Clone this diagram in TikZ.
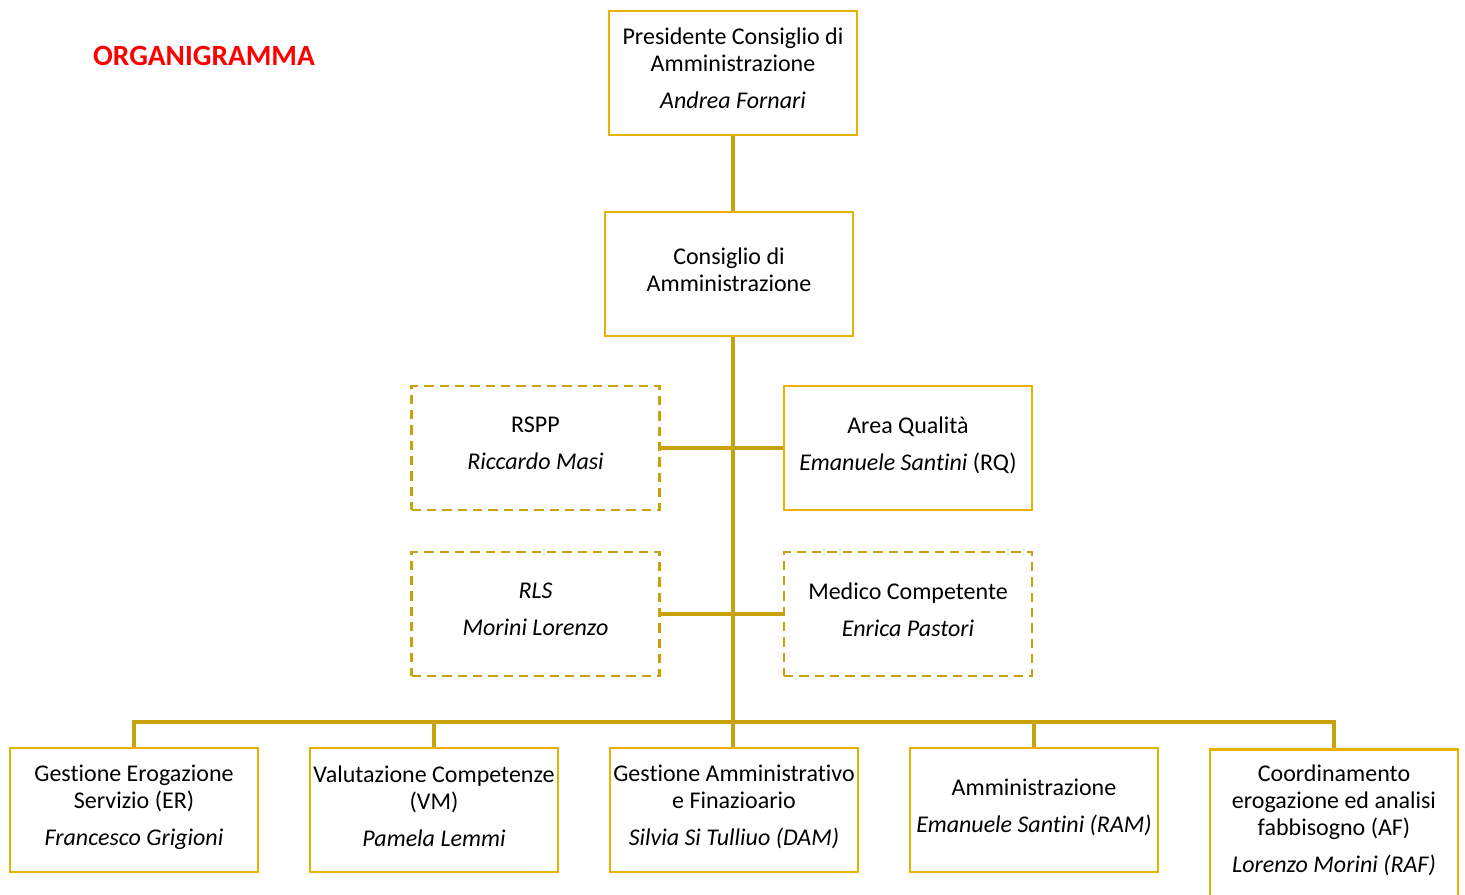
\documentclass[tikz,border=0pt]{standalone}
\usepackage{fontspec}
\setmainfont{Carlito}[Ligatures=NoCommon]
\usetikzlibrary{positioning}
\definecolor{oro}{RGB}{232,178,0}
\definecolor{orosc}{RGB}{201,161,10}
\begin{document}
\begin{tikzpicture}[x=0.75pt,y=-0.75pt,
  box/.style={draw=oro,line width=2pt,minimum width=186pt,minimum height=93pt,
    align=center,inner sep=0pt,text depth=6.5pt,font=\fontsize{18}{20.25}\selectfont},
  tratteggio/.style={box,draw=orosc,dash pattern=on 7pt off 4.5pt},
  linea/.style={draw=orosc,line width=2.6pt}]
\useasboundingbox (0,0) rectangle (1465,895);
\node[text=red,font=\bfseries\fontsize{22}{24}\selectfont] (titolo) at (204,56) {ORGANIGRAMMA};

\node[box] (pres) at (733,73) {Presidente Consiglio di\\Amministrazione\\[7.5pt]\textit{Andrea Fornari}};
\node[box] (cda) at (729,274) {Consiglio di\\Amministrazione};
\node[tratteggio] (rspp) at (535.5,448) {RSPP\\[7.5pt]\textit{Riccardo Masi}};
\node[box] (qual) at (908,448) {Area Qualità\\[7.5pt]\textit{Emanuele Santini} (RQ)};
\node[tratteggio] (rls) at (535.5,614) {\textit{RLS}\\[7.5pt]\textit{Morini Lorenzo}};
\node[tratteggio] (medico) at (908,614) {Medico Competente\\[7.5pt]\textit{Enrica Pastori}};

\node[box] (er) at (134,810) {Gestione Erogazione\\Servizio (ER)\\[7.5pt]\textit{Francesco Grigioni}};
\node[box] (vm) at (434,810) {Valutazione Competenze\\(VM)\\[7.5pt]\textit{Pamela Lemmi}};
\node[box] (dam) at (734,810) {Gestione Amministrativo\\e Finazioario\\[7.5pt]\textit{Silvia Si Tulliuo (DAM)}};
\node[box] (ram) at (1034,810) {Amministrazione\\[7.5pt]\textit{Emanuele Santini (RAM)}};
\node[box,anchor=north,minimum height=116pt,text depth=12pt] (af) at (1334,748) {Coordinamento\\erogazione ed analisi\\fabbisogno (AF)\\[7.5pt]\textit{Lorenzo Morini (RAF)}};

% linee
\coordinate (bus) at (734,722);
\draw[linea] (pres.south) -- (pres.south |- cda.north);
\draw[linea] (cda.south -| pres.south) -- (pres.south |- dam.north);
\draw[linea] (rspp) -- (qual);
\draw[linea] (rls) -- (medico);
\draw[linea] (er.north) |- (bus) -| (af.north);
\foreach \n in {vm,ram}
    \draw[linea] (\n.north) -- (\n.north |- bus);

\end{tikzpicture}
\end{document}
